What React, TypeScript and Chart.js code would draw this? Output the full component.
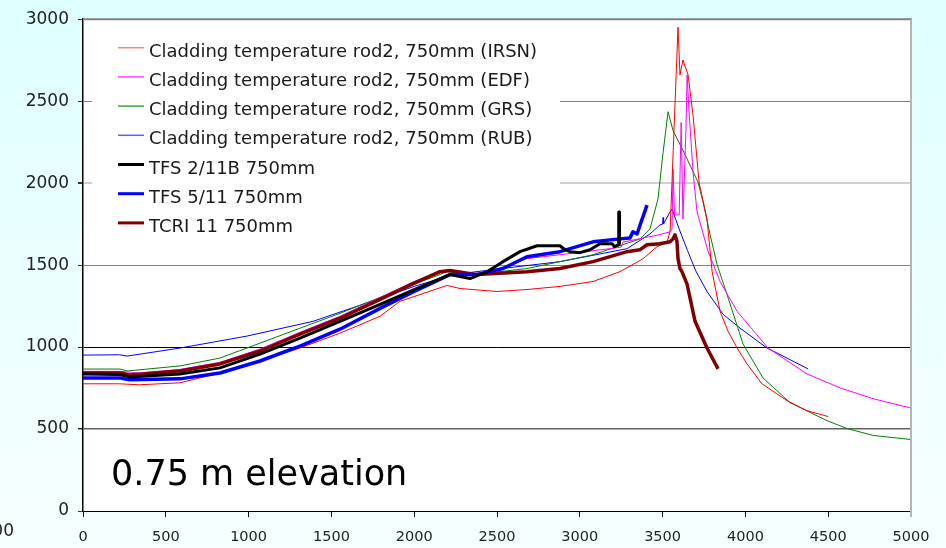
import React, { useEffect, useRef } from "react";
import { Chart, registerables } from "chart.js";

Chart.register(...registerables);

// ---- Data (time [s] vs temperature [K]) ----
const irsnX = [0, 220, 340, 586, 827, 1069, 1310, 1552, 1794, 1914, 2198, 2277, 2500, 2681, 2880, 3080, 3243, 3382, 3466, 3527, 3545, 3593, 3605, 3623, 3635, 3654, 3684, 3720, 3768, 3799, 3847, 3895, 3950, 4010, 4100, 4251, 4372, 4500];
const irsnY = [776, 776, 770, 782, 842, 915, 994, 1085, 1188, 1279, 1376, 1357, 1339, 1351, 1370, 1400, 1460, 1539, 1612, 1642, 1703, 2951, 2660, 2751, 2715, 2660, 2412, 2006, 1782, 1460, 1218, 1097, 994, 897, 776, 673, 612, 576];

const edfX = [0, 220, 340, 586, 827, 1069, 1310, 1552, 1794, 2000, 2200, 2350, 2460, 2680, 3180, 3250, 3260, 3480, 3545, 3557, 3563, 3572, 3600, 3612, 3623, 3641, 3648, 3660, 3684, 3708, 3775, 3847, 3950, 4137, 4372, 4572, 4771, 5000];
const edfY = [852, 852, 842, 864, 907, 988, 1090, 1188, 1303, 1400, 1472, 1445, 1460, 1539, 1600, 1610, 1640, 1685, 1703, 1720, 2085, 1806, 1806, 2370, 1782, 2327, 2660, 2430, 2066, 1824, 1582, 1400, 1218, 994, 836, 751, 685, 628];

const grsX = [0, 223, 266, 586, 827, 1069, 1310, 1552, 1794, 2200, 2355, 2681, 3080, 3364, 3424, 3472, 3503, 3533, 3563, 3623, 3714, 3744, 3787, 3829, 3889, 3986, 4106, 4269, 4493, 4614, 4771, 5000];
const grsY = [866, 866, 854, 885, 933, 1024, 1115, 1206, 1303, 1460, 1442, 1479, 1563, 1660, 1721, 1903, 2188, 2436, 2321, 2200, 2006, 1885, 1685, 1503, 1321, 1018, 812, 661, 551, 503, 461, 436];

const rubX = [0, 220, 266, 586, 990, 1389, 1794, 2000, 2234, 2579, 2880, 3285, 3424, 3484, 3500, 3503, 3506, 3545, 3557, 3600, 3650, 3700, 3768, 3865, 3968, 4131, 4251, 4378];
const rubY = [951, 953, 945, 994, 1067, 1157, 1297, 1370, 1442, 1485, 1521, 1600, 1690, 1745, 1750, 1790, 1752, 1824, 1842, 1720, 1590, 1465, 1339, 1200, 1115, 994, 933, 867];

const tfs211X = [0, 220, 280, 586, 827, 1069, 1310, 1552, 1794, 2000, 2216, 2337, 2440, 2536, 2639, 2742, 2880, 2911, 2941, 3001, 3062, 3122, 3195, 3210, 3231, 3235, 3237, 3240];
const tfs211Y = [836, 833, 818, 836, 873, 957, 1055, 1157, 1260, 1350, 1442, 1418, 1460, 1521, 1582, 1618, 1618, 1594, 1582, 1576, 1594, 1630, 1630, 1612, 1624, 1824, 1824, 1630];

const tfs511X = [0, 220, 280, 586, 827, 1069, 1310, 1552, 1794, 2000, 2216, 2379, 2536, 2681, 2880, 3080, 3243, 3303, 3321, 3346, 3364, 3406];
const tfs511Y = [812, 812, 800, 806, 842, 915, 1006, 1109, 1236, 1340, 1442, 1442, 1479, 1551, 1582, 1642, 1660, 1666, 1703, 1690, 1745, 1866];

const tcriX = [0, 223, 284, 586, 827, 1069, 1310, 1552, 1794, 2000, 2156, 2216, 2379, 2681, 2880, 3080, 3285, 3364, 3406, 3484, 3545, 3563, 3575, 3587, 3593, 3605, 3617, 3648, 3696, 3768, 3835];
const tcriY = [842, 842, 830, 854, 897, 976, 1079, 1176, 1291, 1390, 1460, 1467, 1442, 1460, 1479, 1521, 1582, 1594, 1624, 1630, 1642, 1660, 1685, 1642, 1539, 1479, 1460, 1382, 1157, 994, 867];

const seriesLabels = [
  "Cladding temperature rod2, 750mm (IRSN)",
  "Cladding temperature rod2, 750mm (EDF)",
  "Cladding temperature rod2, 750mm (GRS)",
  "Cladding temperature rod2, 750mm (RUB)",
  "TFS 2/11B 750mm",
  "TFS 5/11 750mm",
  "TCRI 11 750mm",
];
const seriesColors = ["#ff0000", "#ff00ff", "#008000", "#0000ff", "#000000", "#0000ff", "#800000"];
const seriesWidths = [1, 1, 1, 1, 3, 3.5, 3.5];
const legendColors = ["#ff8080", "#ff40ff", "#40a040", "#6060ff", "#000000", "#0000ff", "#800000"];
const legendWidths = [1.5, 1.5, 1.5, 1.5, 3, 3, 3];

const xTickValues = [0, 500, 1000, 1500, 2000, 2500, 3000, 3500, 4000, 4500, 5000];
const yTickValues = [0, 500, 1000, 1500, 2000, 2500, 3000];
const elevationLabel = "0.75 m elevation";
const strayLabel = "500";

const seriesX = [irsnX, edfX, grsX, rubX, tfs211X, tfs511X, tcriX];
const seriesY = [irsnY, edfY, grsY, rubY, tfs211Y, tfs511Y, tcriY];

const FONT = "'DejaVu Sans', Verdana, sans-serif";

function gridColor(v: number): string {
  if (v === 1000) return "#000000";
  if (v === 2000) return "#d0d0d0";
  if (v === 500) return "#606060";
  if (v === 0) return "#000000";
  if (v === 3000) return "rgba(0,0,0,0)";
  return "#808080";
}
function gridWidth(v: number): number {
  if (v === 2000) return 2;
  if (v === 500) return 1.5;
  return 1;
}

const decor = {
  id: "decor",
  beforeDraw(chart: any) {
    const { ctx, width, height, chartArea: a } = chart;
    ctx.save();
    const g = ctx.createLinearGradient(0, 0, 0, height);
    g.addColorStop(0, "#dfffff");
    g.addColorStop(1, "#f7ffff");
    ctx.fillStyle = g;
    ctx.fillRect(0, 0, width, height);
    ctx.fillStyle = "#ffffff";
    ctx.fillRect(a.left, a.top, a.right - a.left, a.bottom - a.top);
    ctx.restore();
  },
  beforeDatasetsDraw(chart: any) {
    const { ctx, chartArea: a } = chart;
    ctx.save();
    // legend box
    ctx.fillStyle = "#ffffff";
    ctx.fillRect(a.left + 9, a.top + 1, 468, 224);
    ctx.font = `18px ${FONT}`;
    ctx.textBaseline = "alphabetic";
    ctx.textAlign = "left";
    seriesLabels.forEach((lab, i) => {
      const y = a.top + 28.5 + i * 29.2;
      ctx.strokeStyle = legendColors[i];
      ctx.lineWidth = legendWidths[i];
      ctx.beginPath();
      ctx.moveTo(a.left + 35, y);
      ctx.lineTo(a.left + 61, y);
      ctx.stroke();
      ctx.fillStyle = "#1a1a1a";
      ctx.fillText(lab, a.left + 66, y + 9);
    });
    // elevation label
    ctx.font = `35px ${FONT}`;
    ctx.fillStyle = "#000000";
    ctx.fillText(elevationLabel, a.left + 28, 485);
    ctx.restore();
  },
  afterDraw(chart: any) {
    const { ctx, chartArea: a } = chart;
    ctx.save();
    // top border
    ctx.strokeStyle = "#808080";
    ctx.lineWidth = 2;
    ctx.beginPath();
    ctx.moveTo(a.left, a.top);
    ctx.lineTo(a.right + 1, a.top);
    ctx.stroke();
    // right border
    ctx.strokeStyle = "#b4b4b4";
    ctx.lineWidth = 2;
    ctx.beginPath();
    ctx.moveTo(a.right, a.top);
    ctx.lineTo(a.right, a.bottom + 6);
    ctx.stroke();
    // stray clipped label bottom-left
    ctx.font = `17px ${FONT}`;
    ctx.fillStyle = "#222222";
    ctx.textAlign = "right";
    ctx.textBaseline = "alphabetic";
    ctx.fillText(strayLabel, 14, 536);
    ctx.restore();
  },
};

export default function App() {
  const ref = useRef<HTMLCanvasElement | null>(null);
  useEffect(() => {
    if (!ref.current) return;
    const datasets = seriesLabels.map((label, i) => ({
      label,
      data: seriesX[i].map((x, j) => ({ x, y: seriesY[i][j] })),
      borderColor: seriesColors[i],
      backgroundColor: seriesColors[i],
      borderWidth: seriesWidths[i],
      showLine: true,
      pointRadius: 0,
      pointHoverRadius: 0,
      fill: false,
      tension: 0,
      borderJoinStyle: "round" as const,
    }));
    const ordered = [4, 5, 6, 0, 1, 2, 3].map((i) => ({ ...datasets[i], order: 0 }));
    const chart = new Chart(ref.current, {
      type: "scatter",
      data: { datasets: ordered as any },
      options: {
        responsive: false,
        animation: false,
        events: [],
        layout: { padding: { top: 16, right: 35, bottom: 0, left: 0 } },
        plugins: { legend: { display: false }, tooltip: { enabled: false } },
        scales: {
          x: {
            type: "linear",
            min: 0,
            max: 5000,
            afterFit: (s: any) => { s.height = 37; },
            afterBuildTicks: (s: any) => { s.ticks = xTickValues.map((v) => ({ value: v })); },
            ticks: { font: { family: FONT, size: 14.5 }, color: "#222222", padding: 12, maxRotation: 0, callback: (v: any) => String(v) },
            grid: { drawOnChartArea: false, drawTicks: true, tickLength: 6, tickColor: "#000000" },
            border: { color: "#000000", width: 1 },
          },
          y: {
            type: "linear",
            min: 0,
            max: 3000,
            afterFit: (s: any) => { s.width = 83; },
            afterBuildTicks: (s: any) => { s.ticks = yTickValues.map((v) => ({ value: v })); },
            ticks: { font: { family: FONT, size: 17 }, color: "#222222", padding: 9, callback: (v: any) => String(v) },
            grid: {
              color: (c: any) => gridColor(c.tick ? c.tick.value : 0),
              lineWidth: (c: any) => gridWidth(c.tick ? c.tick.value : 0),
              tickLength: 5,
              tickColor: "#333333",
              drawTicks: true,
            },
            border: { color: "#000000", width: 1.5 },
          },
        },
      },
      plugins: [decor],
    });
    return () => chart.destroy();
  }, []);
  return (
    <div style={{ position: "absolute", left: 0, top: 0, width: 946, height: 548 }}>
      <canvas ref={ref} width={946} height={548} style={{ display: "block", width: 946, height: 548 }} />
    </div>
  );
}
